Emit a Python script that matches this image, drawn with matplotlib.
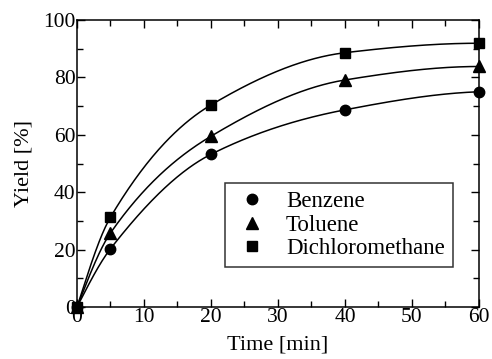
import matplotlib
matplotlib.use("Agg")
import matplotlib.pyplot as plt
import numpy as np
from matplotlib.ticker import MultipleLocator

plt.rcParams['font.family'] = ['Liberation Serif', 'DejaVu Serif']
plt.rcParams['mathtext.fontset'] = 'stix'

# reaction time [min] and yields [%]
time = [0, 5, 20, 40, 60]
benzene = [0, 20.3, 53.2, 68.7, 75.0]
toluene = [0, 25.8, 59.5, 79.1, 83.8]
dcm = [0, 31.3, 70.4, 88.6, 91.9]
names = ["Benzene", "Toluene", "Dichloromethane"]
markers = ["o", "^", "s"]


def pchip(x, y, xn):
    # monotone cubic through the measured points
    x = np.asarray(x, float)
    y = np.asarray(y, float)
    h = np.diff(x)
    d = np.diff(y) / h
    m = np.zeros_like(y)
    for i in range(1, len(x) - 1):
        if d[i - 1] * d[i] > 0:
            w1 = 2 * h[i] + h[i - 1]
            w2 = h[i] + 2 * h[i - 1]
            m[i] = (w1 + w2) / (w1 / d[i - 1] + w2 / d[i])
    m[0] = ((2 * h[0] + h[1]) * d[0] - h[0] * d[1]) / (h[0] + h[1])
    if np.sign(m[0]) != np.sign(d[0]):
        m[0] = 0
    m[-1] = ((2 * h[-1] + h[-2]) * d[-1] - h[-1] * d[-2]) / (h[-1] + h[-2])
    if np.sign(m[-1]) != np.sign(d[-1]):
        m[-1] = 0
    k = np.clip(np.searchsorted(x, xn) - 1, 0, len(x) - 2)
    t = (xn - x[k]) / h[k]
    h00 = 2 * t**3 - 3 * t**2 + 1
    h10 = t**3 - 2 * t**2 + t
    h01 = -2 * t**3 + 3 * t**2
    h11 = t**3 - t**2
    return h00 * y[k] + h10 * h[k] * m[k] + h01 * y[k + 1] + h11 * h[k] * m[k + 1]


fig = plt.figure(figsize=(4.92, 3.59), dpi=100)
ax = fig.add_axes([0.1565, 0.1448, 0.817, 0.7995])

tt = np.linspace(0, 60, 400)
for ys, mk, nm in zip([benzene, toluene, dcm], markers, names):
    ax.plot(tt, pchip(time, ys, tt), color="black", lw=1.1)
    ax.plot(time, ys, linestyle="none", marker=mk, color="black",
            markersize=7.5 if mk != "^" else 8, label=nm, clip_on=False, zorder=3)

ax.set_xlim(0, 60)
ax.set_ylim(0, 100)
ax.xaxis.set_major_locator(MultipleLocator(10))
ax.xaxis.set_minor_locator(MultipleLocator(5))
ax.yaxis.set_major_locator(MultipleLocator(20))
ax.yaxis.set_minor_locator(MultipleLocator(10))
ax.tick_params(which="both", direction="in", top=True, right=True,
               labelsize=15.5, width=1)
ax.tick_params(axis="x", pad=1)
ax.tick_params(axis="y", pad=1)
ax.tick_params(which="major", length=6)
ax.tick_params(which="minor", length=4)
for s in ax.spines.values():
    s.set_linewidth(1.1)

ax.set_xlabel("Time [min]", fontsize=16, labelpad=6)
ax.set_ylabel("Yield [%]", fontsize=16, labelpad=7)

leg = ax.legend(loc="lower right", bbox_to_anchor=(0.935, 0.139), fontsize=16.5,
                frameon=True, fancybox=False, edgecolor="black",
                handlelength=1.6, handletextpad=0.7, borderpad=0.35,
                labelspacing=0.1, borderaxespad=0)
leg.get_frame().set_linewidth(1.1)

fig.savefig("out.png", dpi=100)
